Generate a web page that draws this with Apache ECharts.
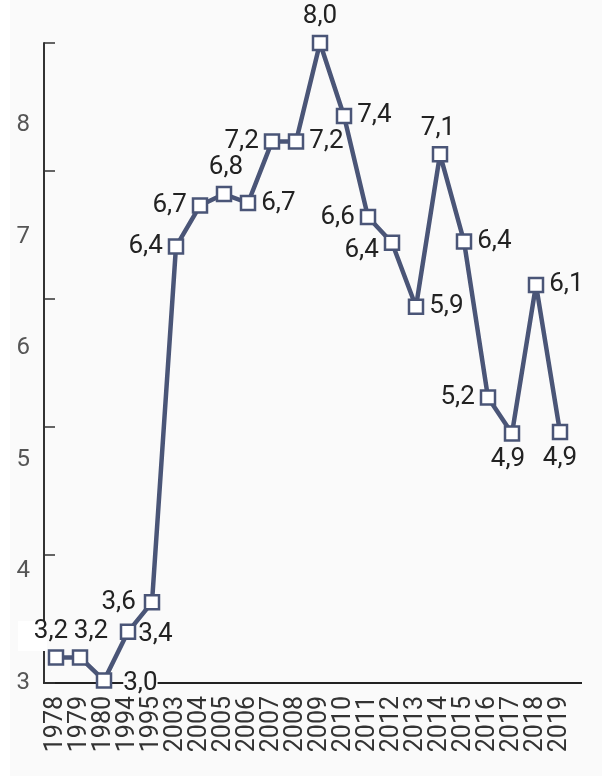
<!DOCTYPE html>
<html>
<head>
<meta charset="utf-8">
<script src="https://cdn.jsdelivr.net/npm/echarts@6/dist/echarts.min.js"></script>
<style>
  html, body { margin: 0; padding: 0; background: #fff; }
  #chart { position: absolute; left: 10px; top: 0; width: 592px; height: 776px; }
</style>
</head>
<body>
<div id="chart"></div>
<script>
// years on the x axis
const years = ['1978', '1979', '1980', '1994', '1995', '2003', '2004', '2005', '2006', '2007', '2008',
  '2009', '2010', '2011', '2012', '2013', '2014', '2015', '2016', '2017', '2018', '2019'];

// values as plotted (labels show them truncated to one decimal)
const values = [3.2, 3.2, 3.02, 3.4, 3.63, 6.41, 6.73, 6.82, 6.75, 7.23, 7.23,
  8.0, 7.43, 6.64, 6.44, 5.94, 7.13, 6.45, 5.23, 4.95, 6.11, 4.96];

// where each value label sits, and a small nudge [dx, dy]
const labelPos = ['top', 'top', 'right', 'right', 'left', 'left', 'left', 'top', 'right', 'left', 'right',
  'top', 'right', 'left', 'left', 'right', 'top', 'right', 'left', 'bottom', 'right', 'bottom'];
const labelNudge = [[-5, 0], [11, 0], [6, 3], [-3, 3], [-3, 0], [0, 0], [0, 0], [2, 0], [0, 0], [0, 0], [0, 0],
  [0, 0], [0, 0], [0, 0], [0, 8], [0, 0], [-2, 0], [0, 0], [0, 0], [-4, 0], [0, 0], [0, 0]];

const yTicks = [3, 8];        // min / max of the value axis
const yLabelMax = 8.735;      // the printed tick labels sit on their own spacing

const lineColor = '#4a5577';
const bg = '#fafafa';
const gridLeft = 34, gridTop = 43, gridW = 528, gridH = 640;

const fmt = v => (Math.floor(v * 10 + 1e-6) / 10).toFixed(1).replace('.', ',');

const chart = echarts.init(document.getElementById('chart'));

chart.setOption({
  backgroundColor: bg,
  animation: false,
  textStyle: { fontFamily: 'Roboto' },
  grid: { left: gridLeft, top: gridTop, width: gridW, height: gridH },
  xAxis: {
    type: 'category',
    data: years,
    boundaryGap: true,
    axisLine: { lineStyle: { color: '#222', width: 2 } },
    axisTick: { inside: true, length: 10, lineStyle: { color: '#2f4f7f', width: 1.2 } },
    axisLabel: { rotate: 90, interval: 0, fontSize: 25, color: '#333', margin: 13 }
  },
  yAxis: [
    {
      type: 'value',
      min: yTicks[0], max: yTicks[1], interval: 1,
      axisLine: { show: true, lineStyle: { color: '#333', width: 2 } },
      axisTick: { show: true, inside: true, length: 11, lineStyle: { color: '#333', width: 1.5 } },
      axisLabel: { show: false },
      splitLine: { show: false }
    },
    {
      type: 'value',
      position: 'left',
      min: yTicks[0], max: yLabelMax, interval: 1,
      axisLine: { show: false },
      axisTick: { show: false },
      axisLabel: { fontSize: 24, color: '#555', margin: 14, showMaxLabel: false },
      splitLine: { show: false }
    }
  ],
  graphic: [
    { type: 'rect', z: 3, shape: { x: 8, y: 621, width: 29, height: 30 }, style: { fill: '#fff' } },
    { type: 'line', z: 3, shape: { x1: gridLeft + gridW, y1: gridTop + gridH, x2: gridLeft + gridW + 10, y2: gridTop + gridH },
      style: { stroke: '#222', lineWidth: 2 } }
  ],
  series: [{
    type: 'line',
    z: 5,
    yAxisIndex: 0,
    data: values.map((v, i) => ({
      value: v,
      label: {
        position: labelPos[i],
        offset: labelNudge[i],
        // the label that sits on the x axis hides the line behind it
        backgroundColor: i === 2 ? bg : 'transparent'
      }
    })),
    symbol: 'rect',
    symbolSize: 14,
    showAllSymbol: true,
    lineStyle: { color: lineColor, width: 4.5 },
    itemStyle: { color: '#fff', borderColor: lineColor, borderWidth: 2.5 },
    label: {
      show: true,
      fontSize: 26,
      color: '#222',
      distance: 5,
      formatter: p => fmt(p.value)
    }
  }]
});
</script>
</body>
</html>
